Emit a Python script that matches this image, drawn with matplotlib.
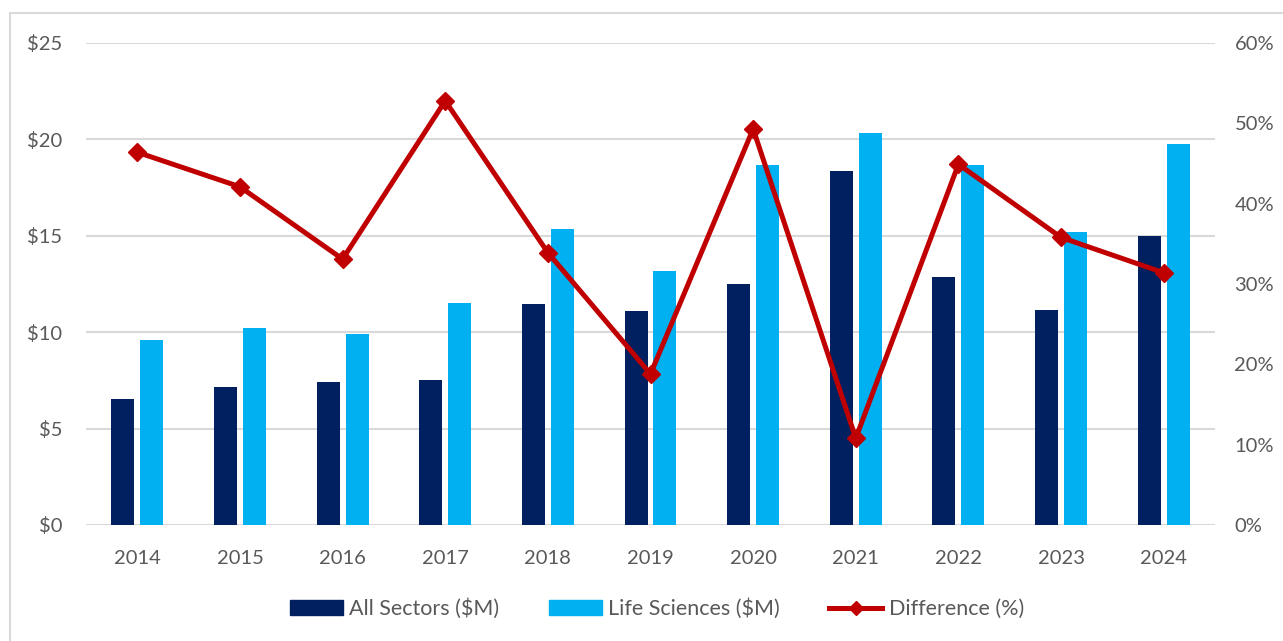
import numpy as np
import matplotlib
matplotlib.use('Agg')
import matplotlib.pyplot as plt
from matplotlib.patches import Rectangle
from matplotlib.lines import Line2D
from matplotlib.patches import Patch

years = ['2014', '2015', '2016', '2017', '2018', '2019', '2020', '2021', '2022', '2023', '2024']
all_sectors = [6.54, 7.18, 7.43, 7.52, 11.45, 11.1, 12.48, 18.35, 12.85, 11.15, 15.0]
life_sciences = [9.6, 10.22, 9.9, 11.51, 15.37, 13.17, 18.66, 20.35, 18.66, 15.18, 19.76]
difference = [46.4, 42.1, 33.1, 52.8, 33.9, 18.8, 49.3, 10.8, 44.9, 35.8, 31.4]

dark = '#002060'
light = '#00b0f0'
red = '#c00000'
grey_txt = '#595959'

plt.rcParams['font.family'] = ['Lato', 'DejaVu Sans']

fig = plt.figure(figsize=(12.83, 6.41), dpi=100)
# outer chart border
fig.patches.append(Rectangle((10 / 1283, -0.05), 1.1, 1 - 13 / 641 + 0.05,
                             transform=fig.transFigure, fill=False,
                             edgecolor='#d9d9d9', linewidth=1.5))

ax = fig.add_axes([86 / 1283, 1 - 525 / 641, (1215 - 86) / 1283, (525 - 43) / 641])
x = np.arange(len(years))
w = 0.224
off = 0.141
ax.bar(x - off, all_sectors, w, color=dark, zorder=2)
ax.bar(x + off, life_sciences, w, color=light, zorder=2)

ax.set_xlim(-0.5, len(years) - 0.5)
ax.set_ylim(0, 25)
ax.set_yticks([0, 5, 10, 15, 20, 25])
ax.set_yticklabels(['$' + str(v) for v in [0, 5, 10, 15, 20, 25]])
ax.set_xticks(x)
ax.set_xticklabels(years)
ax.grid(axis='y', color='#d9d9d9', linewidth=1.5, zorder=0)
ax.set_axisbelow(True)
for s in ax.spines.values():
    s.set_visible(False)
ax.tick_params(axis='both', length=0, labelsize=14.5, colors=grey_txt)
ax.tick_params(axis='y', pad=17)
ax.tick_params(axis='x', pad=18)

ax2 = ax.twinx()
ax2.plot(x, difference, color=red, linewidth=3.6, marker='D', markersize=9, zorder=5)
ax2.set_ylim(0, 60)
ax2.set_yticks(range(0, 61, 10))
ax2.set_yticklabels([str(v) + '%' for v in range(0, 61, 10)])
for s in ax2.spines.values():
    s.set_visible(False)
ax2.tick_params(axis='y', length=0, labelsize=14.5, colors=grey_txt, pad=14)

handles = [Patch(color=dark, label='All Sectors ($M)'),
           Patch(color=light, label='Life Sciences ($M)'),
           Line2D([0], [0], color=red, linewidth=3.6, marker='D', markersize=7, label='Difference (%)')]
leg = fig.legend(handles=handles, loc='center', bbox_to_anchor=(657 / 1283, 1 - 609 / 641),
                 ncol=3, frameon=False, fontsize=15.5, handlelength=2.45, handleheight=0.68,
                 columnspacing=2.3, handletextpad=0.3, labelcolor=grey_txt)

fig.savefig('out.png', dpi=100)
